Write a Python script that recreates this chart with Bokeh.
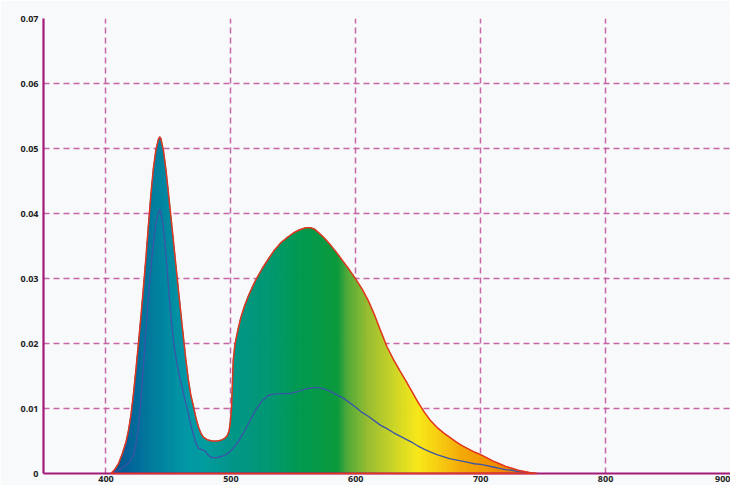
import numpy as np
from bokeh.plotting import figure
from bokeh.models import Range1d, FixedTicker, ColumnDataSource
from bokeh.embed import file_html
from bokeh.resources import INLINE

# ---- data ----
wavelength = [404, 407, 410, 413, 416, 418, 420, 422, 424, 426, 428, 430, 432, 434, 436, 438,
              440, 442, 443, 444, 446, 448, 450, 452, 454, 456, 458, 460, 462, 464, 466, 468,
              470, 472, 474, 476, 478, 481, 485, 489, 492, 495, 497, 498.5, 499.5, 500.5, 501,
              501.5, 502, 503, 504, 506, 508, 511, 514, 517, 520, 525, 530, 535, 540, 545, 550,
              555, 560, 564, 567, 570, 575, 580, 585, 590, 595, 600, 605, 610, 615, 620, 625,
              630, 635, 640, 645, 650, 655, 660, 665, 670, 675, 680, 685, 690, 695, 700, 705,
              710, 715, 720, 725, 730, 735, 740, 745]
spd = [0, 0.0006, 0.0015, 0.0030, 0.0048, 0.0066, 0.0090, 0.0122, 0.0160, 0.0200, 0.0242,
       0.0286, 0.0332, 0.0382, 0.0430, 0.0470, 0.0498, 0.0514, 0.0518, 0.0515, 0.0497, 0.0468,
       0.0432, 0.0395, 0.0358, 0.0320, 0.0283, 0.0246, 0.0210, 0.0175, 0.0144, 0.0120, 0.0104,
       0.0086, 0.0072, 0.0062, 0.0056, 0.0052, 0.0050, 0.0050, 0.0051, 0.0054, 0.0058, 0.0065,
       0.0078, 0.0100, 0.0125, 0.0155, 0.0176, 0.0194, 0.0206, 0.0224, 0.0240, 0.0258, 0.0273,
       0.0286, 0.0298, 0.0315, 0.0330, 0.0344, 0.0355, 0.0363, 0.0370, 0.0375, 0.0378, 0.0378,
       0.0376, 0.0371, 0.0362, 0.0351, 0.0339, 0.0326, 0.0313, 0.0299, 0.0284, 0.0266, 0.0244,
       0.0219, 0.0195, 0.0176, 0.0159, 0.0143, 0.0126, 0.0109, 0.0094, 0.0081, 0.0071, 0.0063,
       0.0056, 0.0049, 0.0043, 0.0038, 0.0033, 0.0029, 0.0024, 0.0019, 0.0015, 0.0011, 0.0008,
       0.0005, 0.0003, 0.0001, 0]

wavelength_inner = [404, 410, 415, 419, 422, 424, 426, 428, 430, 432, 434, 436, 438, 440, 442,
                    443, 444, 446, 448, 450, 452, 454, 456, 458, 460, 462, 464, 466, 468, 470,
                    472, 474, 476, 478, 480, 482, 484, 487, 490, 494, 497, 500, 505, 510, 515,
                    520, 525, 530, 535, 540, 545, 550, 555, 560, 565, 570, 575, 580, 585, 590,
                    595, 600, 605, 610, 615, 620, 625, 630, 635, 640, 645, 650, 655, 660, 665,
                    670, 675, 680, 685, 690, 695, 700, 705, 710, 715, 720, 725, 730, 735, 740, 745]
inner = [0, 0.0005, 0.0011, 0.0018, 0.0028, 0.0045, 0.0072, 0.0115, 0.0165, 0.0220, 0.0272,
         0.0318, 0.0355, 0.0385, 0.0402, 0.0406, 0.0402, 0.0378, 0.0339, 0.0288, 0.0240, 0.0205,
         0.0178, 0.0158, 0.0140, 0.0124, 0.0108, 0.0091, 0.0075, 0.0060, 0.0047, 0.0039, 0.0037,
         0.0036, 0.0033, 0.0028, 0.0025, 0.0024, 0.0025, 0.0027, 0.0030, 0.0035, 0.0046, 0.0062,
         0.0080, 0.0098, 0.0112, 0.0120, 0.0122, 0.0123, 0.0123, 0.0124, 0.0127, 0.0130, 0.0132,
         0.0132, 0.0130, 0.0126, 0.0121, 0.0116, 0.0109, 0.0102, 0.0094, 0.0088, 0.0081, 0.0074,
         0.0069, 0.0063, 0.0058, 0.0053, 0.0048, 0.0042, 0.0037, 0.0033, 0.0029, 0.0026, 0.0023,
         0.0021, 0.0019, 0.0017, 0.0015, 0.0014, 0.0012, 0.0010, 0.0008, 0.0006, 0.0005, 0.0003,
         0.0002, 0.0001, 0]

x_ticks = [400, 500, 600, 700, 800, 900]
x_tick_labels = ["400", "500", "600", "700", "800", "900"]
y_ticks = [0, 0.01, 0.02, 0.03, 0.04, 0.05, 0.06, 0.07]
y_tick_labels = ["0", "0.01", "0.02", "0.03", "0.04", "0.05", "0.06", "0.07"]

# ---- style: spectral colour stops (wavelength -> colour) ----
STOPS = [(404, "#00508c"), (420, "#00659a"), (440, "#007f9d"), (465, "#0098a6"),
         (480, "#009c9e"), (500, "#00968a"), (530, "#009872"), (555, "#009a50"),
         (586, "#0b9a3c"), (593, "#4ea93a"), (610, "#98bd30"), (630, "#cad428"),
         (650, "#f8e81a"), (665, "#f7d012"), (685, "#f4aa08"), (710, "#f09000"),
         (745, "#e86a12")]
BG = "#f8f9fb"
GRID = "#c2559d"
AXIS = "#a3197a"


def hex2rgb(h):
    return [int(h[i:i + 2], 16) for i in (1, 3, 5)]


sw = [s[0] for s in STOPS]
srgb = np.array([hex2rgb(s[1]) for s in STOPS], dtype=float)


def spectral_color(w):
    r, g, b = (np.interp(w, sw, srgb[:, k]) for k in range(3))
    return "#%02x%02x%02x" % (int(round(r)), int(round(g)), int(round(b)))


p = figure(width=730, height=485, output_backend="svg", toolbar_location=None,
           x_range=Range1d(350, 900), y_range=Range1d(0, 0.07),
           min_border_left=43, min_border_right=0, min_border_top=18, min_border_bottom=12)
p.background_fill_color = BG
p.border_fill_color = BG
p.outline_line_color = None

# gradient fill drawn as thin slices under the curve
fx = np.arange(wavelength[0], wavelength[-1] + 0.001, 0.5)
fy = np.interp(fx, wavelength, spd)
xs, ys, cols = [], [], []
for i in range(len(fx) - 1):
    xs.append([fx[i], fx[i + 1], fx[i + 1], fx[i]])
    ys.append([0, 0, fy[i + 1], fy[i]])
    cols.append(spectral_color(0.5 * (fx[i] + fx[i + 1])))
src = ColumnDataSource(dict(xs=xs, ys=ys, c=cols))
p.patches("xs", "ys", source=src, fill_color="c", line_color="c", line_width=0.7)

# inner line
p.line(wavelength_inner, inner, line_color="#3a55a8", line_width=1.3)
# outer outline (closed along the baseline)
p.patch(wavelength, spd, fill_alpha=0, line_color="#e2351f", line_width=1.5, level="overlay")

# grid
for g in (p.xgrid, p.ygrid):
    g.grid_line_color = GRID
    g.grid_line_dash = "6 4"
    g.grid_line_width = 1.5
    g.grid_line_alpha = 0.9
p.xgrid.ticker = FixedTicker(ticks=x_ticks)
p.ygrid.ticker = FixedTicker(ticks=y_ticks)

# axes
p.xaxis.ticker = FixedTicker(ticks=x_ticks)
p.yaxis.ticker = FixedTicker(ticks=y_ticks)
p.xaxis.major_label_overrides = {t: l for t, l in zip(x_ticks, x_tick_labels)}
p.yaxis.major_label_overrides = {t: l for t, l in zip(y_ticks, y_tick_labels)}
for ax in (p.xaxis, p.yaxis):
    ax.axis_line_color = AXIS
    ax.axis_line_width = 2.2
    ax.major_tick_line_color = None
    ax.minor_tick_line_color = None
    ax.major_tick_out = 0
    ax.major_tick_in = 0
    ax.major_label_text_font = "Open Sans"
    ax.major_label_text_font_style = "bold"
    ax.major_label_text_font_size = "9px"
    ax.major_label_text_color = "#222222"
p.xaxis.major_label_standoff = 2
p.yaxis.major_label_standoff = 5

open("out.html", "w").write(file_html(p, INLINE))
